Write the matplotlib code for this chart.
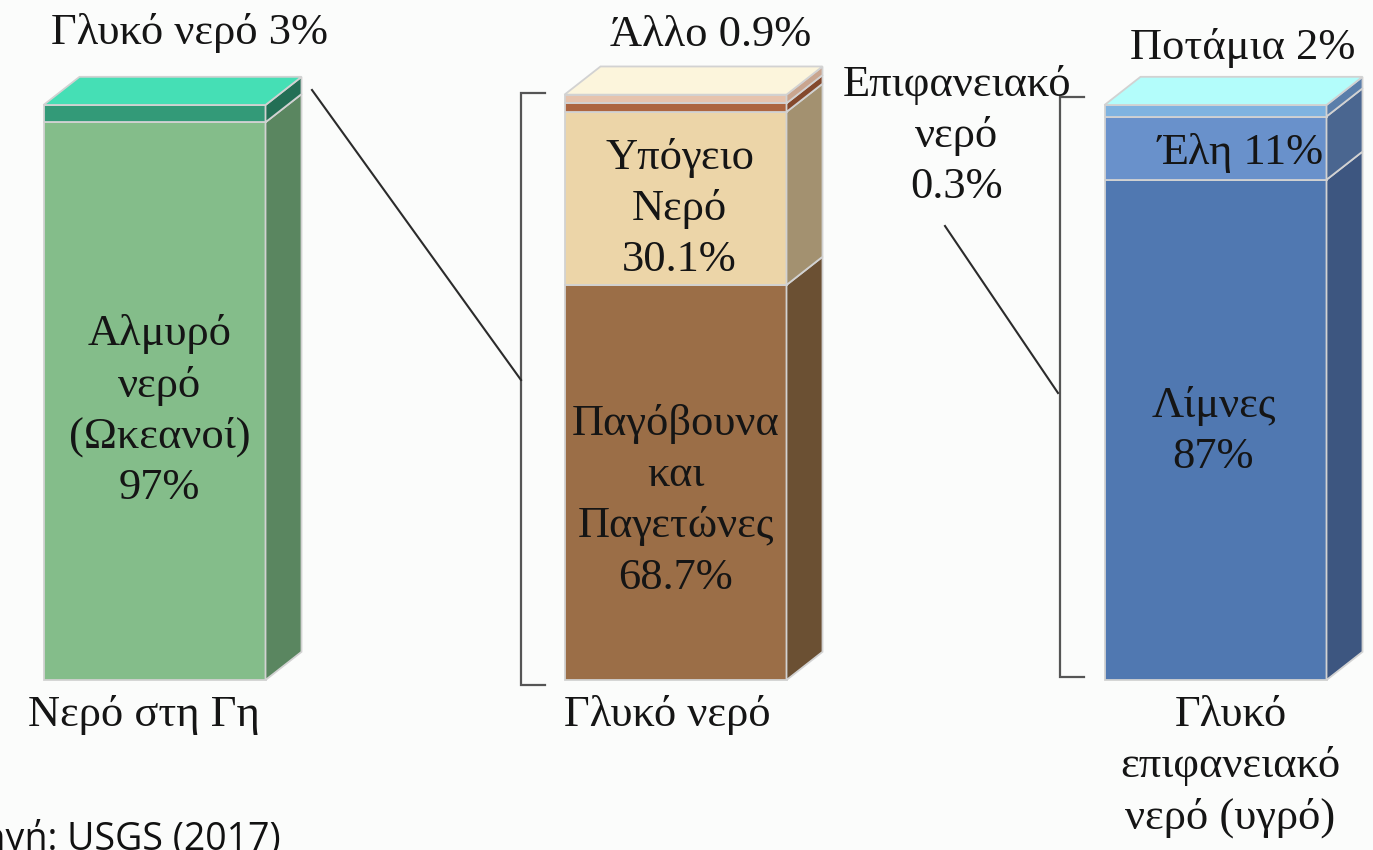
import matplotlib
matplotlib.use("Agg")
import matplotlib.pyplot as plt
from matplotlib.patches import Polygon

# water distribution (percent), bottom to top in each column
earth_labels = ["Αλμυρό\nνερό\n(Ωκεανοί)\n97%", "Γλυκό νερό 3%"]
earth_values = [97, 3]

fresh_labels = ["Παγόβουνα\nκαι\nΠαγετώνες\n68.7%", "Υπόγειο\nΝερό\n30.1%",
                "Επιφανειακό\nνερό\n0.3%", "Άλλο 0.9%"]
fresh_values = [68.7, 30.1, 0.3, 0.9]

surface_labels = ["Λίμνες\n87%", "Έλη 11%", "Ποτάμια 2%"]
surface_values = [87, 11, 2]

column_titles = ["Νερό στη Γη", "Γλυκό νερό", "Γλυκό\nεπιφανειακό\nνερό (υγρό)"]
source_text = "Πηγή: USGS (2017)"

# colours: front, side
earth_colors = [("#84bd8a", "#5a8660"), ("#339a78", "#236f55")]
earth_top = "#45dfb5"
fresh_colors = [("#9b6e47", "#6b5033"), ("#ecd5a8", "#a39170"),
                ("#ac6540", "#84492d"), ("#e6c3ad", "#c9a58f")]
fresh_top = "#fcf5dc"
surface_colors = [("#5078b1", "#3d5680"), ("#6991cb", "#4a6690"), ("#7fb3e0", "#5a7eaa")]
surface_top = "#b3fdfb"

SERIF = "Liberation Serif"
FS = 32
LS = 1.36
PX = 5.75          # pixels per percent
DX, DY = 36, 4.9   # depth of the boxes (x in px, y in percent)
MIN_H = 1.5        # thinnest visible slab


def draw_column(ax, xc, w, values, colors, top_color):
    heights = [max(v, MIN_H) for v in values]
    bottom = 0
    spans = []
    for h, (front, side) in zip(heights, colors):
        ax.bar(xc, h, bottom=bottom, width=w, color=front, edgecolor="#d2d2d2",
               linewidth=1.3, zorder=2)
        xr = xc + w / 2
        ax.add_patch(Polygon([(xr, bottom), (xr + DX, bottom + DY),
                              (xr + DX, bottom + h + DY), (xr, bottom + h)],
                             closed=True, facecolor=side, edgecolor="#d2d2d2",
                             linewidth=1.3, zorder=2))
        spans.append((bottom, bottom + h))
        bottom += h
    xl = xc - w / 2
    xr = xc + w / 2
    ax.add_patch(Polygon([(xl, bottom), (xl + DX, bottom + DY),
                          (xr + DX, bottom + DY), (xr, bottom)],
                         closed=True, facecolor=top_color, edgecolor="#d2d2d2",
                         linewidth=1.3, zorder=2))
    return spans, bottom


fig = plt.figure(figsize=(13.73, 8.5), dpi=100)
fig.patch.set_facecolor("#fbfcfb")
ax = fig.add_axes([0, 0, 1, 1])
ax.set_facecolor("#fbfcfb")
ax.set_xlim(0, 1373)
ax.set_ylim(-170 / PX, 680 / PX)
ax.axis("off")

centers = [154.5, 675.5, 1215.5]
width = 222

s1, top1 = draw_column(ax, centers[0], width, earth_values, earth_colors, earth_top)
s2, top2 = draw_column(ax, centers[1], width, fresh_values, fresh_colors, fresh_top)
s3, top3 = draw_column(ax, centers[2], width, surface_values, surface_colors, surface_top)

txt = dict(family=SERIF, fontsize=FS, color="#151515", ha="center", va="center",
           linespacing=LS, zorder=3)

# column 1
ax.text(centers[0] + 5, sum(s1[0]) / 2 - 1.8, earth_labels[0], **txt)
ax.text(centers[0] + 35, top1 + 12.6, earth_labels[1], **txt)

# column 2
ax.text(centers[1], sum(s2[0]) / 2 - 3.2, fresh_labels[0], **txt)
ax.text(centers[1] + 4, sum(s2[1]) / 2 - 1.8, fresh_labels[1], **txt)
ax.text(957, 94.6, fresh_labels[2], **txt)
ax.text(centers[1] + 35, top2 + 10.4, fresh_labels[3], **txt)

# column 3
ax.text(centers[2] - 2, sum(s3[0]) / 2 - 0.3, surface_labels[0], **txt)
ax.text(centers[2] + 25, sum(s3[1]) / 2 - 0.9, surface_labels[1], **txt)
ax.text(centers[2] + 27, top3 + 10.0, surface_labels[2], **txt)

# column titles
title_offsets = [-11, -8, 15]
for xc, t, off in zip(centers, column_titles, title_offsets):
    ax.text(xc + off, -2.6, t, family=SERIF, fontsize=FS, color="#151515",
            ha="center", va="top", linespacing=LS)


# brackets and connecting lines
def bracket(x, y0, y1, arm=24):
    ax.plot([x + arm, x, x, x + arm], [y1, y1, y0, y0], color="#555555",
            lw=1.6, solid_joinstyle="miter", zorder=1)


bracket(521, -0.9, top2 + 0.3)
bracket(1060, 0.5, top3 + 1.4)
ax.plot([312, 521], [(680 - 90) / PX, (680 - 380) / PX], color="#2b2b2b", lw=1.5)
ax.plot([945, 1058], [(680 - 226) / PX, (680 - 393) / PX], color="#2b2b2b", lw=1.5)

# source (partly cut by the left edge, as in the original)
ax.text(281, -29.6, source_text, family="Open Sans", fontsize=27, color="#111111",
        ha="right", va="baseline")

fig.savefig("out.png", dpi=100, facecolor=fig.get_facecolor())
